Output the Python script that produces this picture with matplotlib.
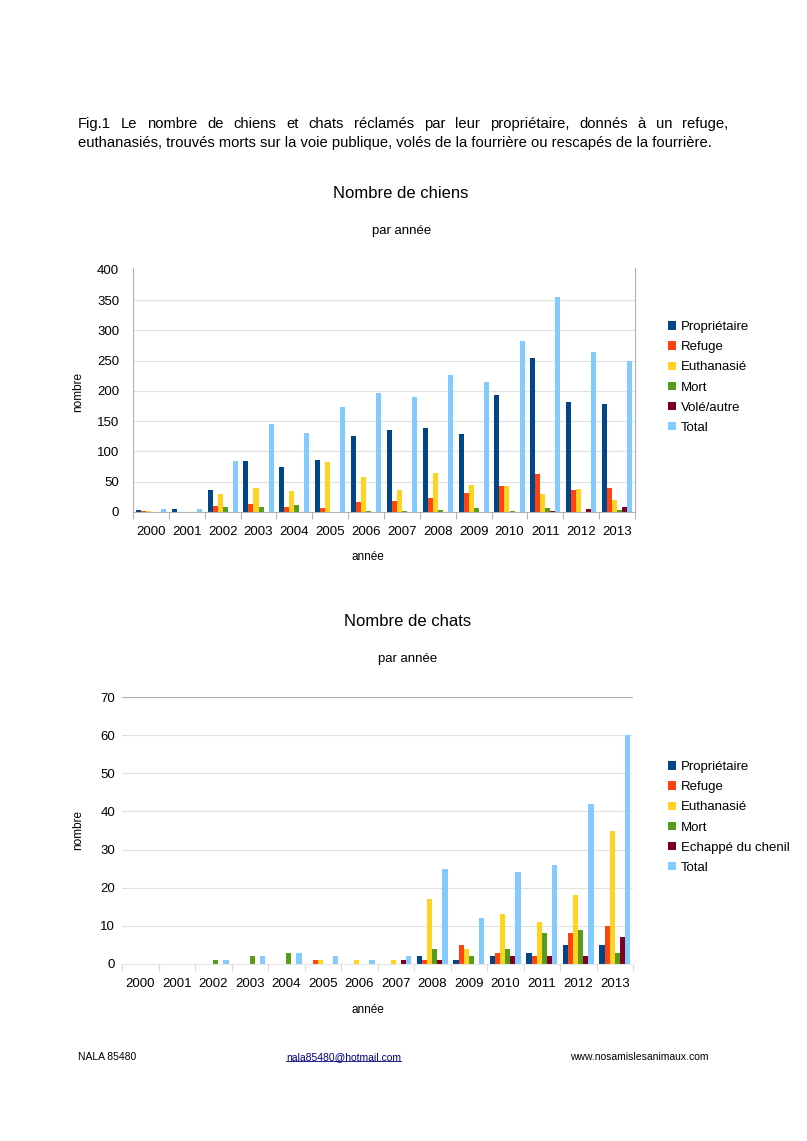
import matplotlib
matplotlib.use("Agg")
import matplotlib.pyplot as plt
import numpy as np
from matplotlib.lines import Line2D
from matplotlib.patches import Patch

plt.rcParams['font.family'] = ['Liberation Sans', 'DejaVu Sans']

years = [str(y) for y in range(2000, 2014)]

# Dogs
dog_series = ["Propriétaire", "Refuge", "Euthanasié", "Mort", "Volé/autre", "Total"]
dog_proprietaire = [3, 5, 36, 85, 75, 86, 125, 135, 138, 129, 194, 255, 182, 179]
dog_refuge = [1, 0, 10, 14, 9, 7, 16, 18, 23, 32, 43, 63, 37, 39]
dog_euthanasie = [1, 0, 30, 39, 35, 83, 57, 36, 64, 45, 43, 30, 38, 19]
dog_mort = [0, 0, 9, 9, 11, 0, 1, 1, 4, 7, 2, 6, 0, 4]
dog_vole = [0, 0, 0, 0, 0, 0, 0, 0, 0, 0, 0, 1, 5, 8]
dog_total = [5, 5, 85, 146, 130, 174, 197, 190, 227, 214, 283, 355, 265, 250]

# Cats
cat_series = ["Propriétaire", "Refuge", "Euthanasié", "Mort", "Echappé du chenil", "Total"]
cat_proprietaire = [0, 0, 0, 0, 0, 0, 0, 0, 2, 1, 2, 3, 5, 5]
cat_refuge = [0, 0, 0, 0, 0, 1, 0, 0, 1, 5, 3, 2, 8, 10]
cat_euthanasie = [0, 0, 0, 0, 0, 1, 1, 1, 17, 4, 13, 11, 18, 35]
cat_mort = [0, 0, 1, 2, 3, 0, 0, 0, 4, 2, 4, 8, 9, 3]
cat_echappe = [0, 0, 0, 0, 0, 0, 0, 1, 1, 0, 2, 2, 2, 7]
cat_total = [0, 0, 1, 2, 3, 2, 1, 2, 25, 12, 24, 26, 42, 60]

colors = ["#004586", "#ff420e", "#ffd320", "#579d1c", "#7e0021", "#83caff"]

W, H = 807, 1141
fig = plt.figure(figsize=(W / 100, H / 100), dpi=100)


def fx(px):
    return px / W


def fy(py):
    return 1 - py / H


def bar_chart(rect, data, names, ymax, ystep, side_spines, legend_top, ypad, xpad,
              axis_color, tick_color):
    ax = fig.add_axes(rect)
    n = len(years)
    x = np.arange(n)
    w = 0.14
    for k, (vals, c) in enumerate(zip(data, colors)):
        ax.bar(x + (k - 2.5) * w, vals, width=w, color=c, linewidth=0)
    ax.set_xlim(-0.5, n - 0.5)
    ax.set_ylim(0, ymax)
    ax.set_yticks(np.arange(0, ymax + 1, ystep))
    ax.set_xticks(x)
    ax.set_xticklabels(years)
    ax.set_xticks(np.arange(-0.5, n, 1.0), minor=True)
    ax.tick_params(axis='x', which='major', length=0, labelsize=9.5, pad=xpad)
    ax.tick_params(axis='x', which='minor', length=5, color=tick_color, width=0.8)
    ax.tick_params(axis='y', length=0, labelsize=9.5, pad=ypad)
    ax.grid(axis='y', color='#e0e0e0', linewidth=0.8)
    ax.set_axisbelow(True)
    ax.spines['top'].set_visible(False)
    ax.spines['left'].set_visible(side_spines)
    ax.spines['right'].set_visible(side_spines)
    for s in ['left', 'right', 'bottom']:
        ax.spines[s].set_color(axis_color)
        ax.spines[s].set_linewidth(0.8)
    handles = [Patch(facecolor=c, edgecolor='none') for c in colors]
    fig.legend(handles, names, loc='upper left',
               bbox_to_anchor=(fx(668), fy(legend_top)), frameon=False,
               fontsize=9.5, handlelength=0.6, handleheight=0.6,
               handletextpad=0.4, labelspacing=0.62, borderaxespad=0,
               borderpad=0)
    return ax


# Dogs chart
ax1 = bar_chart([fx(133), fy(512), fx(635 - 133), (512 - 268) / H],
                [dog_proprietaire, dog_refuge, dog_euthanasie, dog_mort, dog_vole, dog_total],
                dog_series, 400, 50, True, 321, 10, 10, '#b3b3b3', '#b3b3b3')
ax1.set_ylim(0, 403)
ax1.get_ygridlines()[-1].set_visible(False)
# Cats chart
ax2 = bar_chart([fx(122), fy(964), fx(633 - 122), (964 - 697) / H],
                [cat_proprietaire, cat_refuge, cat_euthanasie, cat_mort, cat_echappe, cat_total],
                cat_series, 70, 10, False, 761, 5, 10, '#e6e6e6', '#d9d9d9')
ax2.get_ygridlines()[-1].set_color('#b3b3b3')

# Titles
fig.text(fx(401), fy(194), "Nombre de chiens", ha='center', va='center', fontsize=12)
fig.text(fx(402), fy(231), "par année", ha='center', va='center', fontsize=9.5)
fig.text(fx(408), fy(621), "Nombre de chats", ha='center', va='center', fontsize=12)
fig.text(fx(408), fy(659), "par année", ha='center', va='center', fontsize=9.5)

# Axis labels
fig.text(fx(78), fy(392), "nombre", ha='center', va='center', rotation=90, fontsize=8.5)
fig.text(fx(368), fy(557), "année", ha='center', va='center', fontsize=8.5)
fig.text(fx(78), fy(830), "nombre", ha='center', va='center', rotation=90, fontsize=8.5)
fig.text(fx(368), fy(1010), "année", ha='center', va='center', fontsize=8.5)

# Header (justified first line)
renderer = fig.canvas.get_renderer()
line1 = "Fig.1 Le nombre de chiens et chats réclamés par leur propriétaire, donnés à un refuge,"
line2 = "euthanasiés, trouvés morts sur la voie publique, volés de la fourrière ou rescapés de la fourrière."
hfs = 10.6
words = line1.split()
widths = []
for wd in words:
    t = fig.text(0, 0, wd, fontsize=hfs)
    widths.append(t.get_window_extent(renderer).width)
    t.remove()
x0, x1 = 78, 728
gap = (x1 - x0 - sum(widths)) / (len(words) - 1)
xc = x0
for wd, wpx in zip(words, widths):
    fig.text(fx(xc), fy(124), wd, fontsize=hfs, ha='left', va='center')
    xc += wpx + gap
fig.text(fx(78), fy(143), line2, fontsize=hfs, ha='left', va='center')

# Footer
fig.text(fx(78), fy(1057), "NALA 85480", fontsize=7.5, ha='left', va='center')
em = fig.text(fx(286), fy(1057), "nala85480@hotmail.com", fontsize=7.5, ha='left',
              va='center', color='#000080')
bb = em.get_window_extent(renderer)
fig.add_artist(Line2D([bb.x0 / W, bb.x1 / W], [(bb.y0 + 1) / H, (bb.y0 + 1) / H],
                      color='#000080', linewidth=0.6))
fig.text(fx(570), fy(1057), "www.nosamislesanimaux.com", fontsize=7.5, ha='left', va='center')

fig.savefig("out.png", dpi=100)
